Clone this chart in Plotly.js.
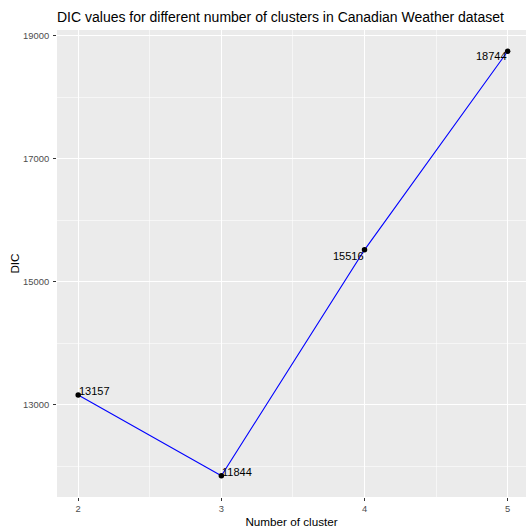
<!DOCTYPE html>
<html>
<head>
<meta charset="utf-8">
<script src="https://cdn.plot.ly/plotly-3.0.1.min.js"></script>
<style>html,body{margin:0;padding:0;background:#fff;}#chart{width:526px;height:531px;}</style>
</head>
<body>
<div id="chart"></div>
<script>
var clusters = [2, 3, 4, 5];
var dicValues = [13157, 11844, 15516, 18744];
var labelAnchor = ['left', 'left', 'right', 'right'];
var labelShift = [4, 4, -6, -5];
var xTicks = [2, 3, 4, 5];
var yTicks = [13000, 15000, 17000, 19000];

var FONT = 'Liberation Sans, Arial, Helvetica, sans-serif';

var trace = {
  x: clusters,
  y: dicValues,
  type: 'scatter',
  mode: 'lines+markers',
  line: {color: '#0000FF', width: 1.1},
  marker: {color: '#000000', size: 5.5},
  hoverinfo: 'none',
  showlegend: false
};

var annotations = clusters.map(function (c, i) {
  return {
    x: c, y: dicValues[i], xref: 'x', yref: 'y',
    text: String(dicValues[i]), showarrow: false,
    xanchor: labelAnchor[i], yanchor: 'middle',
    yshift: labelShift[i], xshift: 0, borderpad: 0,
    font: {family: FONT, size: 11, color: '#000000'}
  };
});

var layout = {
  width: 526, height: 531,
  margin: {l: 56.5, r: 0, t: 29.5, b: 34.4, pad: 0},
  paper_bgcolor: '#FFFFFF',
  plot_bgcolor: '#EBEBEB',
  title: {
    text: 'DIC values for different number of clusters in Canadian Weather dataset',
    font: {family: FONT, size: 14, color: '#000000'},
    x: 57 / 526, xanchor: 'left', xref: 'container',
    y: 1 - 17 / 531, yanchor: 'middle', yref: 'container'
  },
  xaxis: {
    range: [1.852, 5.128],
    tickvals: xTicks,
    ticktext: xTicks.map(String),
    ticks: 'outside', ticklen: 3, tickwidth: 1, tickcolor: '#333333',
    tickfont: {family: FONT, size: 9.4, color: '#4D4D4D'},
    showgrid: true, gridcolor: '#FFFFFF', gridwidth: 1.1,
    minor: {dtick: 0.5, tick0: 2, showgrid: true, gridcolor: '#FFFFFF', gridwidth: 0.55, ticks: ''},
    zeroline: false, showline: false,
    title: {text: 'Number of cluster', font: {family: FONT, size: 11.7, color: '#000000'}, standoff: 4}
  },
  yaxis: {
    range: [11499, 19089],
    tickvals: yTicks,
    ticktext: yTicks.map(String),
    ticks: 'outside', ticklen: 3, tickwidth: 1, tickcolor: '#333333',
    tickfont: {family: FONT, size: 9.4, color: '#4D4D4D'},
    ticklabelstandoff: 2,
    showgrid: true, gridcolor: '#FFFFFF', gridwidth: 1.1,
    minor: {dtick: 1000, tick0: 12000, showgrid: true, gridcolor: '#FFFFFF', gridwidth: 0.55, ticks: ''},
    zeroline: false, showline: false,
    title: {text: 'DIC', font: {family: FONT, size: 11.7, color: '#000000'}, standoff: 0}
  },
  annotations: annotations
};

Plotly.newPlot('chart', [trace], layout, {displayModeBar: false, staticPlot: true});
</script>
</body>
</html>
